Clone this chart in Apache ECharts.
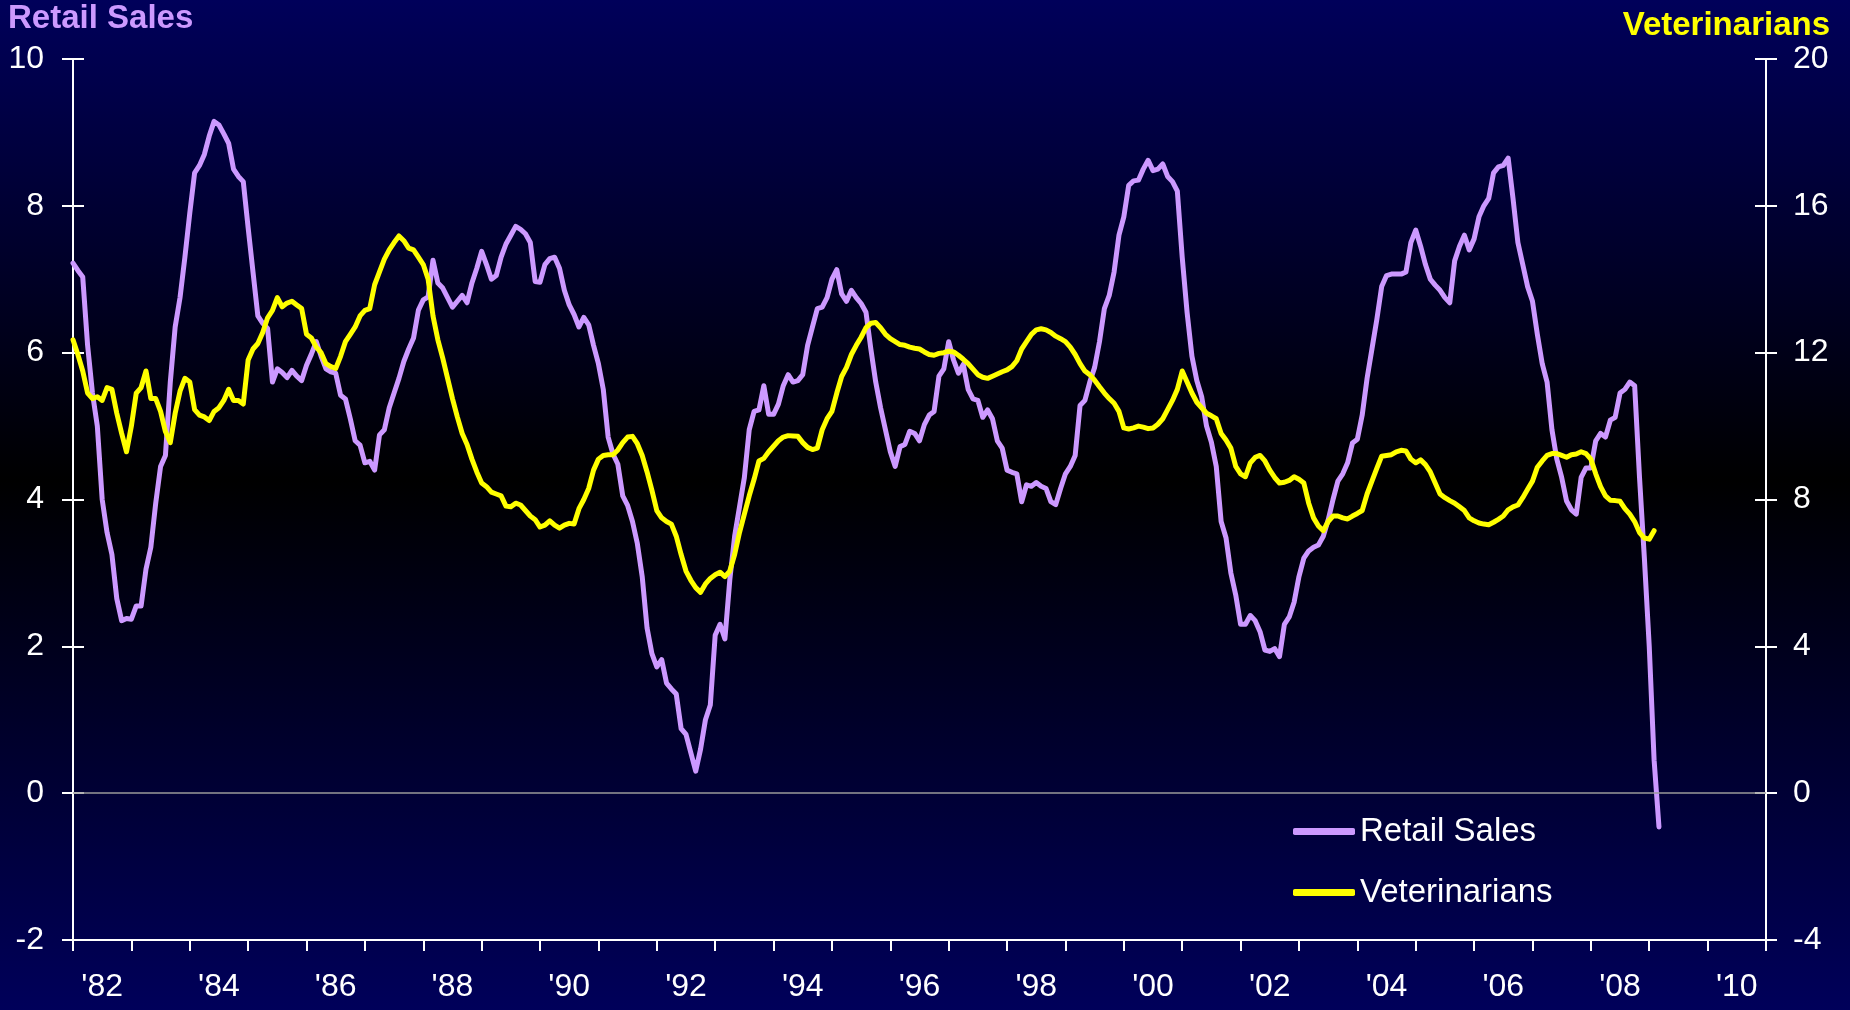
<!DOCTYPE html>
<html>
<head>
<meta charset="utf-8">
<title>Retail Sales vs Veterinarians</title>
<script src="https://cdn.jsdelivr.net/npm/echarts@6/dist/echarts.min.js"></script>
<style>
  html, body { margin: 0; padding: 0; background: #000; }
  #chart { width: 1850px; height: 1010px; }
</style>
</head>
<body>
<div id="chart"></div>
<script>
  // monthly values, first point is Jan 1982
  const startYear = 1982;
  const yearLabels = ["'82", "'83", "'84", "'85", "'86", "'87", "'88", "'89", "'90", "'91",
    "'92", "'93", "'94", "'95", "'96", "'97", "'98", "'99", "'00", "'01",
    "'02", "'03", "'04", "'05", "'06", "'07", "'08", "'09", "'10"];

  // Retail Sales, left axis
  const retailSales = [
    7.22, 7.12, 7.03, 6.1, 5.45, 5.0, 4.0, 3.55, 3.25, 2.65, 2.35, 2.38,   // 1982
    2.37, 2.55, 2.55, 3.05, 3.35, 3.95, 4.45, 4.6, 5.6, 6.35, 6.75, 7.3,   // 1983
    7.9, 8.45, 8.55, 8.7, 8.95, 9.15, 9.1, 8.98, 8.85, 8.5, 8.4, 8.33,     // 1984
    7.7, 7.1, 6.5, 6.4, 6.33, 5.6, 5.78, 5.73, 5.66, 5.76, 5.68, 5.62,     // 1985
    5.83, 5.98, 6.15, 5.95, 5.78, 5.74, 5.72, 5.42, 5.37, 5.1, 4.8, 4.74,  // 1986
    4.5, 4.52, 4.4, 4.88, 4.95, 5.25, 5.45, 5.65, 5.88, 6.05, 6.2, 6.58,   // 1987
    6.72, 6.76, 7.26, 6.95, 6.88, 6.75, 6.62, 6.7, 6.78, 6.68, 6.95, 7.15, // 1988
    7.38, 7.2, 7.0, 7.05, 7.3, 7.48, 7.6, 7.72, 7.68, 7.62, 7.5, 6.97,     // 1989
    6.96, 7.2, 7.28, 7.3, 7.15, 6.85, 6.65, 6.52, 6.35, 6.48, 6.38, 6.1,   // 1990
    5.85, 5.5, 4.85, 4.62, 4.48, 4.05, 3.92, 3.7, 3.4, 2.95, 2.25, 1.9,    // 1991
    1.72, 1.82, 1.5, 1.42, 1.35, 0.88, 0.8, 0.55, 0.3, 0.6, 1.0, 1.2,      // 1992
    2.15, 2.3, 2.1, 2.9, 3.5, 3.9, 4.3, 4.95, 5.2, 5.22, 5.55, 5.16,       // 1993
    5.16, 5.3, 5.55, 5.7, 5.6, 5.62, 5.7, 6.1, 6.35, 6.6, 6.62, 6.75,      // 1994
    7.0, 7.13, 6.8, 6.7, 6.85, 6.75, 6.67, 6.55, 6.05, 5.6, 5.25, 4.95,    // 1995
    4.65, 4.45, 4.72, 4.75, 4.93, 4.9, 4.8, 5.02, 5.15, 5.2, 5.68, 5.78,   // 1996
    6.15, 5.9, 5.72, 5.84, 5.5, 5.37, 5.35, 5.12, 5.22, 5.1, 4.8, 4.7,     // 1997
    4.4, 4.37, 4.35, 3.97, 4.2, 4.18, 4.23, 4.18, 4.15, 3.97, 3.93, 4.15,  // 1998
    4.35, 4.45, 4.6, 5.28, 5.35, 5.6, 5.8, 6.15, 6.6, 6.78, 7.1, 7.6,      // 1999
    7.85, 8.28, 8.34, 8.35, 8.5, 8.62, 8.48, 8.5, 8.57, 8.4, 8.33, 8.2,    // 2000
    7.3, 6.55, 5.95, 5.62, 5.4, 5.0, 4.78, 4.45, 3.7, 3.48, 3.0, 2.7,      // 2001
    2.3, 2.3, 2.42, 2.35, 2.2, 1.95, 1.93, 1.97, 1.86, 2.3, 2.4, 2.6,      // 2002
    2.95, 3.2, 3.3, 3.35, 3.38, 3.5, 3.72, 4.0, 4.25, 4.35, 4.5, 4.77,     // 2003
    4.82, 5.15, 5.65, 6.05, 6.45, 6.9, 7.05, 7.07, 7.07, 7.07, 7.1, 7.5,   // 2004
    7.67, 7.45, 7.2, 7.0, 6.92, 6.85, 6.75, 6.68, 7.25, 7.45, 7.6, 7.4,    // 2005
    7.55, 7.85, 8.0, 8.1, 8.45, 8.53, 8.55, 8.65, 8.1, 7.5, 7.2, 6.9,      // 2006
    6.7, 6.25, 5.85, 5.6, 4.95, 4.55, 4.3, 3.98, 3.86, 3.8, 4.3, 4.43,     // 2007
    4.43, 4.8, 4.9, 4.85, 5.08, 5.12, 5.45, 5.5, 5.6, 5.55, 4.3, 3.2,      // 2008
    2.0, 0.45, -0.46                                                       // 2009
  ];

  // Veterinarians, right axis
  const veterinarians = [
    12.35, 11.95, 11.5, 10.9, 10.75, 10.8, 10.7, 11.05, 11.0, 10.35, 9.8, 9.3,       // 1982
    10.0, 10.9, 11.05, 11.5, 10.75, 10.75, 10.4, 9.85, 9.55, 10.35, 10.95, 11.3,     // 1983
    11.2, 10.45, 10.3, 10.25, 10.15, 10.4, 10.5, 10.7, 11.0, 10.7, 10.7, 10.6,       // 1984
    11.8, 12.1, 12.25, 12.55, 12.95, 13.15, 13.5, 13.25, 13.35, 13.4, 13.3, 13.2,    // 1985
    12.5, 12.4, 12.15, 12.0, 11.7, 11.62, 11.57, 11.9, 12.3, 12.5, 12.7, 13.0,       // 1986
    13.15, 13.2, 13.85, 14.2, 14.55, 14.8, 15.0, 15.18, 15.05, 14.85, 14.8, 14.6,    // 1987
    14.4, 14.0, 13.0, 12.35, 11.85, 11.3, 10.75, 10.25, 9.8, 9.5, 9.1, 8.75,         // 1988
    8.45, 8.35, 8.2, 8.15, 8.1, 7.82, 7.8, 7.9, 7.85, 7.7, 7.55, 7.45,               // 1989
    7.25, 7.3, 7.42, 7.3, 7.22, 7.3, 7.35, 7.33, 7.75, 8.0, 8.3, 8.8,                // 1990
    9.1, 9.2, 9.22, 9.22, 9.35, 9.55, 9.7, 9.72, 9.52, 9.2, 8.75, 8.25,              // 1991
    7.7, 7.5, 7.4, 7.33, 7.0, 6.5, 6.05, 5.8, 5.6, 5.47, 5.7, 5.85,                  // 1992
    5.95, 6.02, 5.9, 6.05, 6.5, 7.1, 7.6, 8.1, 8.55, 9.05, 9.12, 9.3,                // 1993
    9.45, 9.6, 9.7, 9.74, 9.73, 9.72, 9.55, 9.42, 9.36, 9.4, 9.9, 10.2,              // 1994
    10.4, 10.9, 11.35, 11.6, 11.95, 12.2, 12.42, 12.68, 12.8, 12.82, 12.68, 12.5,    // 1995
    12.38, 12.3, 12.22, 12.2, 12.15, 12.12, 12.1, 12.02, 11.95, 11.93, 11.98, 12.0,  // 1996
    12.04, 12.02, 11.93, 11.82, 11.7, 11.55, 11.4, 11.33, 11.3, 11.36, 11.42, 11.48, // 1997
    11.53, 11.62, 11.78, 12.1, 12.3, 12.5, 12.62, 12.65, 12.62, 12.55, 12.45, 12.38, // 1998
    12.3, 12.15, 11.95, 11.7, 11.5, 11.4, 11.25, 11.07, 10.9, 10.75, 10.62, 10.4,    // 1999
    9.95, 9.92, 9.95, 10.0, 9.97, 9.93, 9.95, 10.05, 10.2, 10.45, 10.7, 11.0,        // 2000
    11.5, 11.2, 10.9, 10.65, 10.5, 10.35, 10.28, 10.2, 9.8, 9.62, 9.4, 8.9,          // 2001
    8.7, 8.62, 9.0, 9.15, 9.2, 9.05, 8.8, 8.6, 8.45, 8.47, 8.52, 8.62,               // 2002
    8.55, 8.45, 7.9, 7.5, 7.28, 7.15, 7.4, 7.55, 7.55, 7.5, 7.47, 7.55,              // 2003
    7.62, 7.7, 8.15, 8.5, 8.85, 9.18, 9.2, 9.22, 9.3, 9.34, 9.32, 9.1,               // 2004
    9.0, 9.08, 8.95, 8.75, 8.45, 8.15, 8.05, 7.97, 7.9, 7.8, 7.7, 7.5,               // 2005
    7.42, 7.36, 7.33, 7.31, 7.38, 7.46, 7.55, 7.72, 7.8, 7.85, 8.05, 8.28,           // 2006
    8.5, 8.88, 9.05, 9.2, 9.25, 9.25, 9.2, 9.15, 9.22, 9.24, 9.3, 9.25,              // 2007
    9.1, 8.7, 8.35, 8.1, 7.98, 7.97, 7.95, 7.75, 7.6, 7.4, 7.1, 6.95,                // 2008
    6.92, 7.15                                                                       // 2009
  ];

  const toPoints = arr => arr.map((v, i) => [startYear + i / 12, v]);

  const font = "'Liberation Sans', Arial, sans-serif";
  const white = '#ffffff';

  const chart = echarts.init(document.getElementById('chart'));
  const option = {
    animation: false,
    backgroundColor: {
      type: 'linear', x: 0, y: 0, x2: 0, y2: 1,
      colorStops: [
        { offset: 0, color: '#00005a' },
        { offset: 0.475, color: '#000000' },
        { offset: 1, color: '#00005a' }
      ]
    },
    textStyle: { fontFamily: font },
    title: [
      {
        text: 'Retail Sales', left: 8, top: 2, padding: 0,
        textStyle: { color: '#cc99ff', fontSize: 33, fontWeight: 'bold', fontFamily: font }
      },
      {
        text: 'Veterinarians', right: 20, top: 9, padding: 0,
        textStyle: { color: '#ffff00', fontSize: 33, fontWeight: 'bold', fontFamily: font }
      }
    ],
    legend: {
      orient: 'vertical',
      left: 1293,
      top: 813,
      padding: 0,
      icon: 'roundRect',
      itemWidth: 62,
      itemHeight: 7,
      itemGap: 24,
      textStyle: { color: white, fontSize: 33, lineHeight: 37, fontFamily: font },
      data: ['Retail Sales', 'Veterinarians']
    },
    grid: { left: 73, right: 84, top: 59, bottom: 70, outerBoundsMode: 'none' },
    xAxis: [
      {
        type: 'value', min: 1982, max: 2011, interval: 1, position: 'bottom',
        axisLine: { onZero: false, lineStyle: { color: white, width: 2 } },
        axisTick: { show: true, length: 11, lineStyle: { color: white, width: 2 } },
        axisLabel: { show: false },
        splitLine: { show: false }
      },
      {
        type: 'category', data: yearLabels, boundaryGap: true, position: 'bottom',
        axisLine: { show: false, onZero: false },
        axisTick: { show: false },
        axisLabel: { interval: 1, color: white, fontSize: 32, margin: 31, fontFamily: font },
        splitLine: { show: false }
      }
    ],
    yAxis: [
      {
        type: 'value', min: -2, max: 10, interval: 2, position: 'left',
        axisLine: { show: true, onZero: false, lineStyle: { color: white, width: 2 } },
        axisTick: { show: true, length: 11, lineStyle: { color: white, width: 2 } },
        axisLabel: { color: white, fontSize: 32, margin: 29, fontFamily: font },
        splitLine: { show: false }
      },
      {
        type: 'value', min: -4, max: 20, interval: 4, position: 'right',
        axisLine: { show: true, onZero: false, lineStyle: { color: white, width: 2 } },
        axisTick: { show: true, length: 11, lineStyle: { color: white, width: 2 } },
        axisLabel: { color: white, fontSize: 32, margin: 27, fontFamily: font },
        splitLine: { show: false }
      },
      // inner half of the crossing ticks
      {
        type: 'value', min: -2, max: 10, interval: 2, position: 'left',
        axisLine: { show: false, onZero: false },
        axisTick: { show: true, inside: true, length: 11, lineStyle: { color: white, width: 2 } },
        axisLabel: { show: false },
        splitLine: { show: false }
      },
      {
        type: 'value', min: -4, max: 20, interval: 4, position: 'right',
        axisLine: { show: false, onZero: false },
        axisTick: { show: true, inside: true, length: 11, lineStyle: { color: white, width: 2 } },
        axisLabel: { show: false },
        splitLine: { show: false }
      }
    ],
    series: [
      {
        name: 'Retail Sales',
        type: 'line',
        xAxisIndex: 0,
        yAxisIndex: 0,
        data: toPoints(retailSales),
        showSymbol: false,
        symbol: 'none',
        color: '#cc99ff',
        lineStyle: { color: '#cc99ff', width: 5, cap: 'round', join: 'round' },
        markLine: {
          silent: true,
          symbol: 'none',
          label: { show: false },
          lineStyle: { color: '#9a9a9a', width: 1.5, type: 'solid' },
          data: [{ yAxis: 0 }]
        }
      },
      {
        name: 'Veterinarians',
        type: 'line',
        xAxisIndex: 0,
        yAxisIndex: 1,
        data: toPoints(veterinarians),
        showSymbol: false,
        symbol: 'none',
        color: '#ffff00',
        lineStyle: { color: '#ffff00', width: 5, cap: 'round', join: 'round' }
      }
    ]
  };
  chart.setOption(option);
</script>
</body>
</html>
